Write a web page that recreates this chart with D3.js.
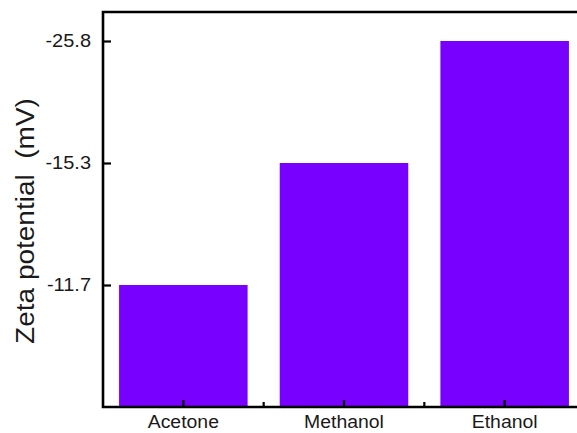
<!DOCTYPE html>
<html>
<head>
<meta charset="utf-8">
<script src="https://cdn.jsdelivr.net/npm/d3@7"></script>
<style>
  html, body { margin: 0; padding: 0; background: #fff; }
  svg { display: block; font-family: "Liberation Sans", Arial, sans-serif; }
</style>
</head>
<body>
<svg id="chart" width="577" height="433"></svg>
<script>
// Solvents and their measured zeta potentials (mV)
const solvents = ["Acetone", "Methanol", "Ethanol"];
const zeta = [-11.7, -15.3, -25.8];
// Levels shown on the y axis, bottom to top (evenly spaced)
const yLevels = ["0", "-11.7", "-15.3", "-25.8"];
const yTickLabels = ["-11.7", "-15.3", "-25.8"];

const svg = d3.select("#chart");
const plotLeft = 103, plotRight = 585, plotTop = 12, plotBottom = 407;

const x = d3.scaleBand()
  .domain(solvents)
  .range([plotLeft, plotRight])
  .paddingInner(0.2)
  .paddingOuter(0.1);

const y = d3.scalePoint()
  .domain(yLevels)
  .range([plotBottom, 41]);

// bars
svg.append("g")
  .selectAll("rect")
  .data(solvents.map((s, i) => ({ s, v: zeta[i] })))
  .join("rect")
  .attr("x", d => x(d.s))
  .attr("width", x.bandwidth())
  .attr("y", d => y(String(d.v)))
  .attr("height", d => plotBottom - y(String(d.v)))
  .attr("fill", "#7700ff");

// y axis: ticks pointing inward
const ySx = 1.08;
const yAxis = svg.append("g")
  .attr("transform", `translate(${plotLeft},0)`)
  .call(d3.axisLeft(y).tickValues(yTickLabels).tickSizeInner(-8).tickSizeOuter(0).tickPadding(12));
yAxis.select(".domain").remove();
yAxis.selectAll(".tick line").attr("stroke", "#000").attr("stroke-width", 2.2);
yAxis.selectAll(".tick text")
  .attr("x", -12 / ySx)
  .attr("transform", `scale(${ySx},1)`)
  .attr("font-size", 18.5).attr("fill", "#1a1a1a")
  .attr("font-family", "Liberation Sans, Arial, sans-serif");

// x axis: major ticks at categories, minor ticks between them (inward)
const xAxis = svg.append("g")
  .attr("transform", `translate(0,${plotBottom})`)
  .call(d3.axisBottom(x).tickSizeInner(-7).tickSizeOuter(0).tickPadding(8));
xAxis.select(".domain").remove();
xAxis.selectAll(".tick line").attr("stroke", "#000").attr("stroke-width", 2.2);
xAxis.selectAll(".tick text")
  .attr("transform", "scale(1.05,1)")
  .attr("font-size", 18.5).attr("fill", "#1a1a1a")
  .attr("font-family", "Liberation Sans, Arial, sans-serif");

const bounds = solvents.slice(1).map(s => x(s) - x.step() * x.paddingInner() / 2);
svg.append("g")
  .selectAll("line")
  .data(bounds)
  .join("line")
  .attr("x1", d => d).attr("x2", d => d)
  .attr("y1", plotBottom).attr("y2", plotBottom - 5)
  .attr("stroke", "#000").attr("stroke-width", 2.2);

// frame
svg.append("path")
  .attr("d", `M${plotRight},${plotTop}H${plotLeft}V${plotBottom}H${plotRight}`)
  .attr("fill", "none")
  .attr("stroke", "#000")
  .attr("stroke-width", 2.6);

// y title
svg.append("text")
  .attr("transform", "translate(34,221) rotate(-90) scale(1.12,1)")
  .attr("text-anchor", "middle")
  .attr("font-size", 25)
  .attr("fill", "#1a1a1a")
  .style("white-space", "pre")
  .text("Zeta potential  (mV)");
</script>
</body>
</html>
